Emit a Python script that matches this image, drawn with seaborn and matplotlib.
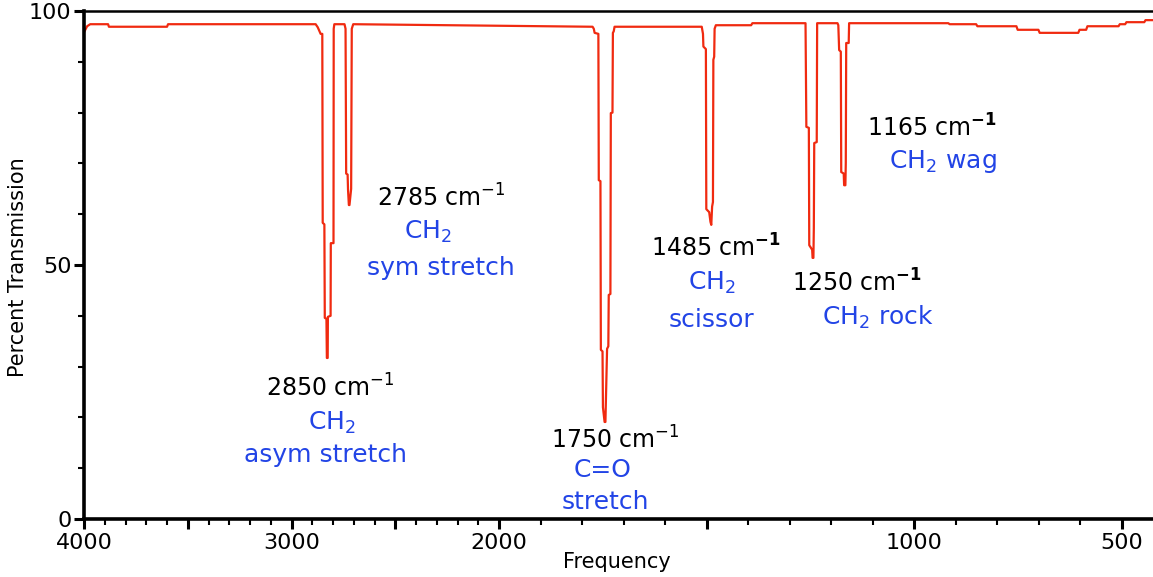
import numpy as np
import pandas as pd
import matplotlib
matplotlib.use("Agg")
import matplotlib.pyplot as plt
import seaborn as sns
from matplotlib.ticker import FixedLocator, FixedFormatter, MultipleLocator

# ---------------- data ----------------
wavenumber = [
    4000, 3985, 3970, 3884, 3880, 3600, 3595,
    2884, 2874, 2860, 2852, 2850, 2842, 2840, 2832, 2830, 2826, 2825, 2812, 2811, 2798, 2797, 2794,
    2745, 2740, 2737, 2730, 2728, 2724, 2721, 2713, 2710, 2703,
    1775, 1772, 1770, 1761, 1760, 1756, 1755, 1751, 1750, 1746, 1744, 1741, 1740, 1737, 1736, 1732,
    1731, 1727, 1726, 1724, 1722,
    1512, 1509, 1508, 1502, 1501, 1494, 1491, 1489, 1487, 1485, 1484, 1482, 1481, 1478,
    1393, 1390,
    1262, 1260, 1254, 1253, 1246, 1245, 1243, 1242, 1241, 1235, 1234,
    1185, 1183, 1181, 1177, 1176, 1170, 1169, 1166, 1165, 1164, 1158, 1157,
    918, 915, 851, 848, 754, 751, 701, 698, 605, 602, 586, 583, 508, 505, 492, 489, 446, 443, 425,
]
transmission = [
    95.8, 97.0, 97.4, 97.4, 96.9, 96.9, 97.4,
    97.4, 96.8, 95.5, 95.5, 58.3, 58.0, 39.6, 39.4, 31.7, 31.7, 39.8, 40.0, 54.3, 54.3, 96.5, 97.4,
    97.4, 96.5, 68.0, 67.8, 64.8, 61.8, 61.8, 65.0, 96.5, 97.4,
    96.9, 96.5, 95.7, 95.5, 66.7, 66.5, 33.3, 33.0, 22.0, 19.1, 19.1, 30.0, 33.5, 34.0, 44.1, 44.3,
    79.9, 80.0, 95.7, 96.0, 96.9,
    96.9, 95.5, 93.0, 92.5, 61.0, 60.4, 58.5, 57.9, 61.5, 62.4, 90.4, 91.0, 96.5, 97.2,
    97.2, 97.6,
    97.6, 77.2, 77.0, 53.9, 53.0, 51.4, 51.4, 57.3, 74.0, 74.2, 97.6,
    97.6, 97.2, 92.3, 92.0, 68.3, 68.0, 65.7, 65.7, 70.1, 93.7, 93.7, 97.6,
    97.6, 97.4, 97.4, 97.0, 97.0, 96.3, 96.3, 95.7, 95.7, 96.3, 96.3, 97.0, 97.0, 97.4, 97.4, 97.8,
    97.8, 98.2, 98.2,
]

# peak annotations: frequency label (black) and assignment (blue)
freq_labels = ["2850 cm$^{-1}$", "2785 cm$^{-1}$", "1750 cm$^{-1}$",
               "1485 cm$^{\\mathbf{-1}}$", "1250 cm$^{\\mathbf{-1}}$", "1165 cm$^{\\mathbf{-1}}$"]
assign_labels = [["CH$_2$", "asym stretch"],
                 ["CH$_2$", "sym stretch"],
                 ["C=O", "stretch"],
                 ["CH$_2$", "scissor"],
                 ["CH$_2$ rock"],
                 ["CH$_2$ wag"]]

x_major = [4000, 3500, 3000, 2500, 2000, 1500, 1000, 500]
x_major_labels = ["4000", "", "3000", "", "2000", "", "1000", "500"]
y_major = [0, 50, 100]
y_major_labels = ["0", "50", "100"]

# ---------------- layout ----------------
freq_pos = [(2815, 25.8), (2280, 63.2), (1721, 15.6), (1478, 53.3), (1137, 46.5), (957, 77.0)]
assign_pos = [[(2807, 18.9), (2836, 12.6)],
              [(2341, 56.5), (2280, 49.4)],
              [(1752, 9.6), (1743, 3.3)],
              [(1488, 46.5), (1488, 39.2)],
              [(1088, 39.6)],
              [(932, 70.3)]]

sns.set_style("ticks")
plt.rcParams["font.family"] = ["DejaVu Sans"]

fig = plt.figure(figsize=(11.53, 5.77), dpi=100)
ax = fig.add_axes([84 / 1153, 1 - 519 / 577, 1 - 84 / 1153, (519 - 11) / 577])


def forward(f):
    f = np.asarray(f, dtype=float)
    return np.where(f >= 2000, f, 2 * f - 2000)


def inverse(x):
    x = np.asarray(x, dtype=float)
    return np.where(x >= 2000, x, (x + 2000) / 2)


ax.set_xscale("function", functions=(forward, inverse))

df = pd.DataFrame({"wavenumber": wavenumber, "transmission": transmission})
sns.lineplot(data=df, x="wavenumber", y="transmission", sort=False, estimator=None,
             color="#f02a10", lw=1.6, ax=ax)

ax.set_xlim(4000, 425)
ax.set_ylim(0, 100)

ax.xaxis.set_major_locator(FixedLocator(x_major))
ax.xaxis.set_major_formatter(FixedFormatter(x_major_labels))
ax.xaxis.set_minor_locator(MultipleLocator(100))
ax.yaxis.set_major_locator(FixedLocator(y_major))
ax.yaxis.set_major_formatter(FixedFormatter(y_major_labels))
ax.yaxis.set_minor_locator(MultipleLocator(10))

ax.tick_params(axis="both", which="major", direction="out", length=7, width=2.2,
               labelsize=16, color="black", labelcolor="black")
ax.tick_params(axis="both", which="minor", direction="out", length=4, width=1.5, color="black")
ax.tick_params(axis="x", which="major", pad=3)
ax.tick_params(axis="y", which="major", pad=2)

for side, lw in (("left", 2.6), ("bottom", 2.6), ("top", 1.8)):
    ax.spines[side].set_visible(True)
    ax.spines[side].set_linewidth(lw)
    ax.spines[side].set_color("black")
ax.spines["right"].set_visible(False)

ax.set_xlabel("Frequency", fontsize=15, color="black")
ax.set_ylabel("Percent Transmission", fontsize=15, color="black")
ax.xaxis.set_label_coords(0.4986, -0.064)
ax.yaxis.set_label_coords(-0.052, 0.496)

blue = "#2244e6"
for lab, (fx, fy) in zip(freq_labels, freq_pos):
    ax.text(fx, fy, lab, fontsize=17, color="black", ha="center", va="center")
for labs, poss in zip(assign_labels, assign_pos):
    for lab, (fx, fy) in zip(labs, poss):
        ax.text(fx, fy, lab, fontsize=18, color=blue, ha="center", va="center")

fig.savefig("out.png", dpi=100)
